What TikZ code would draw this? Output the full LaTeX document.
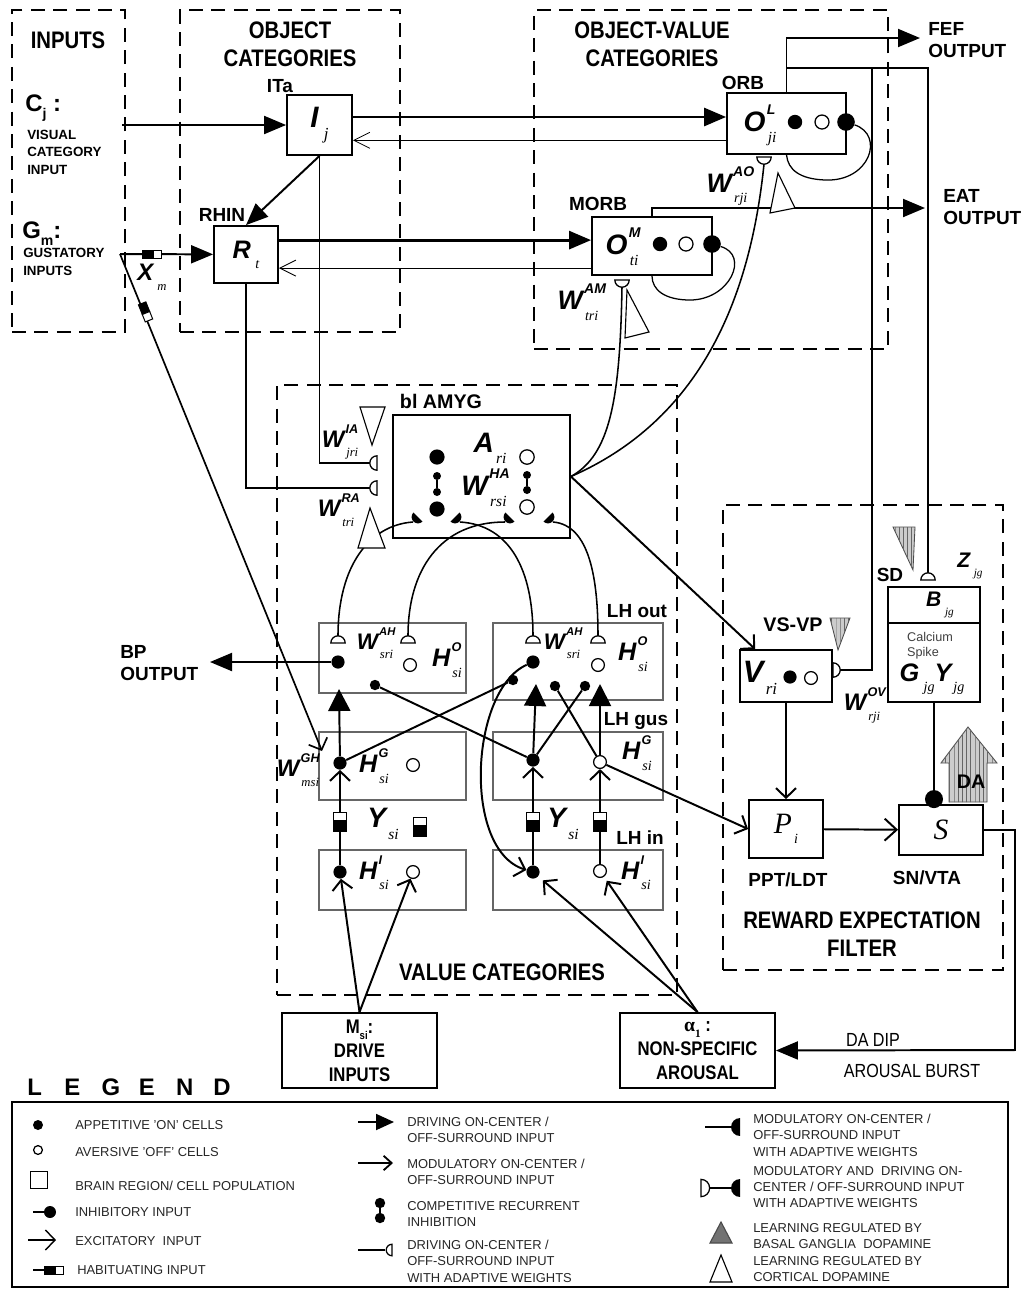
\documentclass[tikz,border=0pt]{standalone}
\usepackage{fontspec}
\setmainfont{Liberation Sans}
\newfontfamily\narrow[FakeStretch=0.85]{Liberation Sans}
\newfontfamily\tnr{Liberation Serif}
\usepackage{relsize}
\usetikzlibrary{arrows.meta,fit,patterns}
\newcommand{\mvar}[3]{{\bfseries\itshape #1}\raisebox{0.6em}{\makebox[0pt][l]{\kern0.05em\relscale{0.5}\bfseries\itshape #2}}\kern0.08em\raisebox{-0.4em}{\relscale{0.55}\tnr\itshape #3}}
\newcommand{\lo}[1]{\raisebox{-0.3em}{\relscale{0.6}#1}}

\begin{document}
\begin{tikzpicture}[x=0.25mm,y=-0.25mm,>=Latex]
\tikzstyle{region}=[draw,line width=2pt,dash pattern=on 3.5mm off 2.1mm,inner sep=0pt]
\tikzstyle{box}=[draw,line width=1.3pt,inner sep=0pt]
\tikzstyle{pool}=[draw=black!60,line width=0.8pt,inner sep=0pt]
\tikzstyle{oncell}=[circle,fill=black,inner sep=0pt,minimum size=3.3mm]
\tikzstyle{offcell}=[circle,draw,fill=white,line width=0.9pt,inner sep=0pt,minimum size=3.2mm]
\tikzstyle{inhdot}=[circle,fill=black,inner sep=0pt,minimum size=2.6mm]
\tikzstyle{wire}=[line width=0.9pt]
\tikzstyle{link}=[line width=1.4pt]
\tikzstyle{drive}=[line width=2pt,-{Triangle[length=5.5mm,width=4.5mm]}]
\tikzstyle{push}=[line width=1.4pt,-{Triangle[length=5.5mm,width=5.5mm]}]
\tikzstyle{excite}=[line width=1.4pt,-{Straight Barb[length=2.4mm,width=5mm]}]
\tikzstyle{feedback}=[line width=0.6pt,-{Straight Barb[length=4mm,width=4mm]}]
\tikzstyle{hatch}=[draw=black!70,line width=0.6pt,fill=black!20,postaction={pattern=vertical lines,pattern color=black!60}]
\tikzstyle{opentri}=[draw,line width=0.8pt,fill=white]
\tikzstyle{heading}=[font=\narrow\bfseries\fontsize{17}{20}\selectfont,align=center,inner sep=0pt]
\tikzstyle{lbl}=[font=\bfseries\fontsize{13.5}{16}\selectfont,inner sep=0pt]
\tikzstyle{inlabel}=[font=\bfseries\fontsize{9.5}{12.5}\selectfont,align=left,anchor=west,inner sep=0pt]
\tikzstyle{sym}=[font=\fontsize{20}{22}\selectfont,inner sep=0pt]
\tikzstyle{wsym}=[font=\fontsize{17}{19}\selectfont,inner sep=0pt]
\tikzstyle{legtext}=[font=\fontsize{9.2}{11.7}\selectfont,align=left,anchor=west,inner sep=0pt,text=black!85]
\tikzset{
  wcup/.pic={\draw[line width=0.9pt,fill=white] (-1.8mm,0mm) arc[start angle=180,end angle=360,radius=1.8mm] -- cycle;},
  wmod/.pic={\fill (-1.6mm,0mm) arc[start angle=180,end angle=360,radius=1.6mm] -- cycle;},
  habv/.pic={\filldraw[line width=0.7pt] (-1.6mm,-2.8mm) rectangle (1.6mm,0mm); \draw[line width=0.7pt,fill=white] (-1.6mm,0mm) rectangle (1.6mm,2mm);},
  habh/.pic={\filldraw[line width=0.7pt] (-2.6mm,-1mm) rectangle (0mm,1mm); \draw[line width=0.7pt,fill=white] (0mm,-1mm) rectangle (2mm,1mm);}
}
\useasboundingbox (0,0) rectangle (1029,1289);
\fill[white] (0,0) rectangle (1029,1289);

% dashed regions
\node[region,fit={(12,10) (125,332)}] (inputs) {};
\node[region,fit={(180,10) (400,332)}] (objcat) {};
\node[region,fit={(534,10) (888,349)}] (ovcat) {};
\node[region,fit={(277,385) (677,995)}] (valcat) {};
\node[region,fit={(723,505) (1003,970)}] (filter) {};
\node[heading] (hIn) at (68,40) {INPUTS};
\node[heading] (hObj) at (290,44) {OBJECT\\CATEGORIES};
\node[heading] (hOV) at (652,44) {OBJECT-VALUE\\CATEGORIES};
\node[heading] (hVal) at (502,972) {VALUE CATEGORIES};
\node[heading] (hRef) at (862,934) {REWARD EXPECTATION\\FILTER};

% inputs
\node[lbl,anchor=west,font=\bfseries\fontsize{17}{20}\selectfont] (tCj) at (25,108) {C\lo{j} :};
\node[inlabel] (tVis) at (27,152) {VISUAL\\CATEGORY\\INPUT};
\node[lbl,anchor=west,font=\bfseries\fontsize{17}{20}\selectfont] (tGm) at (22,234) {G\lo{m}:};
\node[inlabel] (tGus) at (23,262) {GUSTATORY\\INPUTS};
\coordinate (cjin) at (122,125);
\coordinate (gmin) at (120,254);
\coordinate (ghend) at (322,751);

% boxes
\node[box,fit={(287,95) (352,155)}] (Ij) {};
\node[box,fit={(214,226) (278,283)}] (Rt) {};
\node[box,fit={(727,93) (846,154)}] (OL) {};
\node[box,fit={(592,217) (712,275)}] (OM) {};
\node[box,fit={(393,415) (570,538)}] (Am) {};
\node[box,fit={(740,650) (832,702)}] (V) {};
\node[box,fit={(888,587) (980,702)}] (BG) {};
\node[box,fit={(749,800) (823,858)}] (P) {};
\node[box,fit={(899,805) (983,855)}] (S) {};
\node[box,fit={(282,1013) (437,1088)}] (Dr) {};
\node[box,fit={(620,1013) (775,1088)}] (Ar) {};
\node[pool,fit={(319,623) (466,693)}] (HOl) {};
\node[pool,fit={(493,623) (663,700)}] (HOr) {};
\node[pool,fit={(319,732) (466,800)}] (HGl) {};
\node[pool,fit={(493,732) (663,800)}] (HGr) {};
\node[pool,fit={(319,850) (466,910)}] (HIl) {};
\node[pool,fit={(493,850) (663,910)}] (HIr) {};

% cells
\node[oncell,minimum size=3.6mm] (ol1) at (795,122) {};
\node[offcell,minimum size=3.5mm] (ol2) at (822,122) {};
\node[oncell,minimum size=4.4mm] (ol3) at (846,122) {};
\node[oncell,minimum size=3.6mm] (om1) at (660,244) {};
\node[offcell,minimum size=3.5mm] (om2) at (686,244) {};
\node[oncell,minimum size=4.4mm] (om3) at (712,244) {};
\node[oncell,minimum size=3.8mm] (a1) at (437,457) {};
\node[inhdot,minimum size=2mm] (ad1) at (437,476) {};
\node[inhdot,minimum size=2mm] (ad2) at (437,492) {};
\node[oncell,minimum size=3.8mm] (a2) at (437,509) {};
\node[offcell,minimum size=3.6mm] (a3) at (527,457) {};
\node[inhdot,minimum size=2mm] (ad3) at (527,475) {};
\node[inhdot,minimum size=2mm] (ad4) at (527,490) {};
\node[offcell,minimum size=3.6mm] (a4) at (527,507) {};
\node[oncell] (hol1) at (338,662) {};
\node[offcell] (hol2) at (410,665) {};
\node[oncell] (hor1) at (533,662) {};
\node[offcell] (hor2) at (598,665) {};
\node[oncell] (hgl1) at (340,763) {};
\node[offcell] (hgl2) at (413,765) {};
\node[oncell] (hgr1) at (533,760) {};
\node[offcell] (hgr2) at (600,762) {};
\node[oncell] (hil1) at (340,872) {};
\node[offcell] (hil2) at (413,872) {};
\node[oncell] (hir1) at (533,872) {};
\node[offcell] (hir2) at (600,871) {};
\node[inhdot] (il1) at (375,685) {};
\node[inhdot] (ir1) at (513,680) {};
\node[inhdot] (ir2) at (555,686) {};
\node[inhdot] (ir3) at (585,686) {};
\node[oncell] (v1) at (790,677) {};
\node[offcell] (v2) at (811,678) {};

% free ends
\coordinate (fef) at (920,38);
\coordinate (eat) at (925,208);
\coordinate (split) at (787,68);
\coordinate (split2) at (872,68);
\coordinate (aoTip) at (764,164.2);
\coordinate (amTip) at (622,287.2);
\coordinate (iaTip) at (369.8,463);
\coordinate (raTip) at (369.8,488);
\coordinate (sdTip) at (928,572.8);
\coordinate (vTip) at (840.2,670);
\coordinate (ho1) at (338,635.8);
\coordinate (ho2) at (408,635.8);
\coordinate (ho3) at (533,635.8);
\coordinate (ho4) at (598,635.8);
\coordinate (m1) at (413,522);
\coordinate (m2) at (460,522);
\coordinate (m3) at (505,522);
\coordinate (m4) at (553,522);
\coordinate (bp) at (210,662);
\coordinate (upl) at (339,689);
\coordinate (upr1) at (536,684);
\coordinate (upr2) at (600,684);
\coordinate (turn) at (1015,1050);

% object pathway
\draw[drive,line width=1.4pt] (cjin) -- (Ij);
\draw[drive,line width=1.4pt] (gmin) -- (Rt);
\draw[excite,line width=1.2pt] (gmin) -- (ghend);
\draw[drive,line width=1.4pt] (Ij.south) -- (Rt.north);
\draw[drive] ([yshift=2mm]Ij.east) -- ([yshift=2mm]Ij.east -| OL.west);
\draw[feedback] ([yshift=-4.2mm]OL.west) -- ([yshift=-4.2mm]OL.west -| Ij.east);
\draw[drive] ([yshift=3.6mm]Rt.east) -- ([yshift=3.6mm]Rt.east -| OM.west);
\draw[feedback] ([yshift=-3.4mm]Rt.east -| OM.west) -- ([yshift=-3.4mm]Rt.east);
\draw[wire] (ol3) .. controls (885,135) and (870,182) .. (825,180) .. controls (800,179) and (788,170) .. (OL.south);
\draw[wire] (om3) .. controls (750,255) and (730,300) .. (690,300) .. controls (665,300) and (652,290) .. (OM.south);
\draw[drive,line width=1.4pt] (OL.north) |- (fef);
\draw[drive,line width=1.4pt] (OM.north) |- (eat);
\draw[wire] (split) -| (sdTip);
\draw[wire] (split2) |- (vTip);
\draw[wire] (Ij.south) |- (iaTip);
\draw[wire] (Rt.south) |- (raTip);

% amygdala
\draw[line width=1pt] (ad1) -- (ad2);
\draw[line width=1pt] (ad3) -- (ad4);
\draw[wire,line width=1.1pt] (Am.east) .. controls (610,455) and (620,400) .. (amTip);
\draw[wire,line width=1.1pt] (Am.east) .. controls (700,420) and (750,300) .. (aoTip);
\draw[excite] (Am.east) -- ([xshift=4mm]V.north west);
\draw[wire,line width=1.1pt] (m1) .. controls (370,525) and (338,565) .. (ho1);
\draw[wire,line width=1.1pt] (m2) .. controls (510,525) and (533,570) .. (ho3);
\draw[wire,line width=1.1pt] (m3) .. controls (440,522) and (408,570) .. (ho2);
\draw[wire,line width=1.1pt] (m4) .. controls (590,525) and (598,580) .. (ho4);

% value categories
\draw[drive,line width=1.4pt] (hol1) -- (bp);
\draw[link] (hgl1) -- (ir1);
\draw[link] (hgr1) -- (il1);
\draw[link] (hgr1) -- (ir3);
\draw[link] (hgr2) -- (ir2);
\draw[push] (hgl1) -- (upl);
\draw[push] (hgr1) -- (upr1);
\draw[push] (hgr2) -- (upr2);
\draw[excite] (hil1) -- (hgl1);
\draw[excite] (hir1) -- (hgr1);
\draw[excite] (hir2) -- (hgr2);
\draw[excite] (hor1) .. controls (470,690) and (462,850) .. (hir1);
\draw[excite] (hgr2) -- (P.west);
\draw[excite] (Dr.north) -- (hil1);
\draw[excite] (Dr.north) -- (hil2);
\draw[excite,shorten >=1.5mm] (Ar.north) -- (hir1);
\draw[excite,shorten >=1.2mm] (Ar.north) -- (hir2);

% reward expectation filter
\draw[excite] (V.south) -- (P.north);
\draw[excite,-{Straight Barb[length=3mm,width=5.5mm]}] (P) -- (S);
\draw[wire,line width=1pt,-{Circle[length=4.5mm]}] (BG.south) -- ([yshift=-1mm]BG.south |- S.north);
\draw[line width=0.8pt] (BG.west |- 0,623) -- (BG.east |- 0,623);
\draw[drive,line width=1.4pt] (S.east) -| (turn) -- (Ar.east);
\draw[hatch] (949,802) -- (987,802) -- (987,763) -- (997,763) -- (968,727) -- (941,763) -- (949,763) -- cycle;

% weights, markers and habituation gates
\pic at (764,157) {wcup};
\pic at (622,280) {wcup};
\pic[rotate=-90] at (377,463) {wcup};
\pic[rotate=-90] at (377,488) {wcup};
\pic[rotate=180] at (338,643) {wcup};
\pic[rotate=180] at (408,643) {wcup};
\pic[rotate=180] at (533,643) {wcup};
\pic[rotate=180] at (598,643) {wcup};
\pic[rotate=180] at (928,580) {wcup};
\pic[rotate=90] at (833,670) {wcup};
\pic[rotate=-45] at (418,517) {wmod};
\pic[rotate=45] at (455,517) {wmod};
\pic[rotate=-45] at (510,517) {wmod};
\pic[rotate=45] at (548,517) {wmod};
\pic at (153,254) {habh};
\pic[rotate=-68.2] at (146,313) {habh};
\pic at (340,820) {habv};
\pic at (533,820) {habv};
\pic at (600,820) {habv};
\pic at (420,825) {habv};
\draw[opentri] (770,213) -- (778,173) -- (795,208) -- cycle;
\draw[opentri] (627,290) -- (625,338) -- (649,332) -- cycle;
\draw[opentri] (360,407) -- (385,407) -- (372,445) -- cycle;
\draw[opentri] (370,508) -- (358,548) -- (385,548) -- cycle;
\draw[hatch] (830,618) -- (850,618) -- (838,650) -- cycle;
\draw[hatch] (893,527) -- (915,527) -- (913,570) -- cycle;

% labels
\node[sym,font=\fontsize{21}{23}\selectfont] (tIj) at (Ij) {\mvar{I}{}{\,j}};
\node[lbl] (tITa) at (280,86) {ITa};
\node[sym,font=\fontsize{18}{20}\selectfont] (tRt) at (Rt) {\mvar{R}{}{\,t}};
\node[lbl] (tRHIN) at (222,215) {RHIN};
\node[wsym] (tXm) at (152,277) {\mvar{X}{}{\,m}};
\node[sym] (tOL) at (760,125) {\mvar{O}{L}{ji}};
\node[lbl] (tORB) at (743,83) {ORB};
\node[sym] (tOM) at (622,247) {\mvar{O}{M}{ti}};
\node[lbl] (tMORB) at (598,204) {MORB};
\node[lbl,anchor=west,align=left] (tFEF) at (928,40) {FEF\\OUTPUT};
\node[lbl,anchor=west,align=left] (tEAT) at (943,207) {EAT\\OUTPUT};
\node[sym,font=\fontsize{19}{21}\selectfont] (tWAO) at (727,186) {\mvar{W}{AO}{rji}};
\node[sym,font=\fontsize{19}{21}\selectfont] (tWAM) at (578,302) {\mvar{W}{AM}{tri}};
\node[lbl,font=\bfseries\fontsize{14}{16}\selectfont] (tAm) at (441,401) {bl AMYG};
\node[sym] (tA) at (490,448) {\mvar{A}{}{ri}};
\node[sym] (tWHA) at (484,488) {\mvar{W}{HA}{rsi}};
\node[wsym] (tWIA) at (340,442) {\mvar{W}{IA}{jri}};
\node[wsym] (tWRA) at (336,510) {\mvar{W}{RA}{tri}};
\node[lbl,anchor=west,align=left] (tBP) at (120,663) {BP\\OUTPUT};
\node[lbl] (tLHo) at (637,611) {LH out};
\node[lbl] (tLHg) at (636,721) {LH gus};
\node[lbl] (tLHi) at (640,838) {LH in};
\node[wsym,font=\fontsize{16}{18}\selectfont] (tWAHl) at (375,643) {\mvar{W}{AH}{sri}};
\node[wsym,font=\fontsize{16}{18}\selectfont] (tWAHr) at (562,643) {\mvar{W}{AH}{sri}};
\node[wsym,font=\fontsize{18}{20}\selectfont] (tHOl) at (447,660) {\mvar{H}{O}{si}};
\node[wsym,font=\fontsize{18}{20}\selectfont] (tHOr) at (633,654) {\mvar{H}{O}{si}};
\node[wsym,font=\fontsize{18}{20}\selectfont] (tHGl) at (374,766) {\mvar{H}{G}{si}};
\node[wsym,font=\fontsize{18}{20}\selectfont] (tHGr) at (637,753) {\mvar{H}{G}{si}};
\node[wsym,font=\fontsize{18}{20}\selectfont] (tHIl) at (374,873) {\mvar{H}{I}{si}};
\node[wsym,font=\fontsize{18}{20}\selectfont] (tHIr) at (636,873) {\mvar{H}{I}{si}};
\node[wsym] (tWGH) at (298,770) {\mvar{W}{GH}{msi}};
\node[sym] (tYl) at (383,824) {\mvar{Y}{}{si}};
\node[sym] (tYr) at (563,824) {\mvar{Y}{}{si}};
\node[lbl,font=\bfseries\fontsize{14}{16}\selectfont] (tVSVP) at (793,625) {VS-VP};
\node[sym,font=\fontsize{22}{24}\selectfont] (tV) at (760,678) {\mvar{V}{}{ri}};
\node[wsym] (tWOV) at (862,705) {\mvar{W}{OV}{rji}};
\node[lbl] (tSD) at (890,575) {SD};
\node[wsym,font=\fontsize{15}{17}\selectfont] (tZ) at (970,566) {\mvar{Z}{}{\,jg}};
\node[wsym,font=\fontsize{15}{17}\selectfont] (tB) at (940,605) {\mvar{B}{}{\,jg}};
\node[font=\fontsize{9}{10.5}\selectfont,align=left,text=black!75,inner sep=0pt] (tCa) at (930,646) {Calcium\\Spike};
\node[wsym,font=\fontsize{18}{20}\selectfont] (tGY) at (932,679) {\mvar{G}{}{\,jg}\mvar{Y}{}{jg}};
\node[font=\tnr\itshape\fontsize{21}{24}\selectfont,inner sep=0pt] (tP) at (P) {P\raisebox{-0.35em}{\relscale{0.5}\,i}};
\node[font=\tnr\itshape\fontsize{21}{24}\selectfont,inner sep=0pt] (tS) at (S) {S};
\node[lbl] (tPPT) at (788,880) {PPT/LDT};
\node[lbl] (tSN) at (927,878) {SN/VTA};
\node[lbl,font=\bfseries\fontsize{14}{16}\selectfont] (tDA) at (971,782) {DA};
\node[heading,font=\narrow\bfseries\fontsize{14}{17}\selectfont] (tDr) at (Dr) {M\lo{si}:\\DRIVE\\INPUTS};
\node[heading,font=\narrow\bfseries\fontsize{14}{17}\selectfont] (tAr) at (Ar) {{\tnr\bfseries α\lo{1}} :\\NON-SPECIFIC\\AROUSAL};
\node[font=\narrow\fontsize{13.5}{16}\selectfont,inner sep=0pt] (tDip) at (873,1040) {DA DIP};
\node[font=\narrow\fontsize{13.5}{16}\selectfont,inner sep=0pt] (tBurst) at (912,1071) {AROUSAL BURST};

% legend
\node[anchor=west,inner sep=0pt,font=\bfseries\fontsize{17}{20}\selectfont] (tLegend) at (27,1087) {\makebox[9.3mm][l]{L}\makebox[9.3mm][l]{E}\makebox[9.3mm][l]{G}\makebox[9.3mm][l]{E}\makebox[9.3mm][l]{N}D};
\node[draw,line width=1.8pt,inner sep=0pt,fit={(12,1102) (1008,1287)}] (legend) {};
\node[oncell,minimum size=2.5mm] (lg1) at (38,1125) {};
\node[offcell,minimum size=2.2mm] (lg2) at (38,1150) {};
\node[draw,line width=0.6pt,minimum size=4.2mm,inner sep=0pt] (lg3) at (39,1180) {};
\node[oncell,minimum size=3mm] (lg4) at (50,1212) {};
\coordinate (lg4a) at (33,1212);
\coordinate (lg5a) at (28,1240);
\coordinate (lg5b) at (56,1240);
\coordinate (lg6a) at (33,1270);
\coordinate (lg6b) at (48,1270);
\draw[wire] (lg4a) -- (lg4);
\draw[excite,line width=1pt] (lg5a) -- (lg5b);
\draw[wire] (lg6a) -- (lg6b);
\pic at (55,1270) {habh};
\node[legtext] (lt1) at (75,1125) {APPETITIVE 'ON' CELLS};
\node[legtext] (lt2) at (75,1152) {AVERSIVE 'OFF' CELLS};
\node[legtext] (lt3) at (75,1186) {BRAIN REGION/ CELL POPULATION};
\node[legtext] (lt4) at (75,1212) {INHIBITORY INPUT};
\node[legtext] (lt5) at (75,1241) {EXCITATORY~~INPUT};
\node[legtext] (lt6) at (77,1270) {HABITUATING INPUT};
\coordinate (lg7a) at (358,1122);
\coordinate (lg7b) at (394,1122);
\coordinate (lg8a) at (358,1163);
\coordinate (lg8b) at (393,1163);
\coordinate (lg10a) at (358,1250);
\coordinate (lg10b) at (385,1250);
\draw[drive,line width=1.3pt,-{Triangle[length=4.5mm,width=4mm]}] (lg7a) -- (lg7b);
\draw[excite,line width=1.3pt,-{Straight Barb[length=2mm,width=3.6mm]}] (lg8a) -- (lg8b);
\node[oncell,minimum size=2.6mm] (lg9a) at (380,1203) {};
\node[oncell,minimum size=2.6mm] (lg9b) at (380,1218) {};
\draw[line width=1pt] (lg9a) -- (lg9b);
\draw[wire] (lg10a) -- (lg10b);
\pic[rotate=-90,scale=0.8] at (392,1250) {wcup};
\node[legtext] (lt7) at (407,1130) {DRIVING ON-CENTER /\\OFF-SURROUND INPUT};
\node[legtext] (lt8) at (407,1172) {MODULATORY ON-CENTER /\\OFF-SURROUND INPUT};
\node[legtext] (lt9) at (407,1214) {COMPETITIVE RECURRENT\\INHIBITION};
\node[legtext] (lt10) at (407,1261) {DRIVING ON-CENTER /\\OFF-SURROUND INPUT\\WITH ADAPTIVE WEIGHTS};
\coordinate (lg11a) at (705,1127);
\coordinate (lg11b) at (733,1127);
\coordinate (lg12a) at (709,1188);
\coordinate (lg12b) at (733,1188);
\draw[wire] (lg11a) -- (lg11b);
\pic[rotate=-90,scale=1.4] at (740,1127) {wmod};
\draw[wire] (lg12a) -- (lg12b);
\pic[rotate=90,scale=1.2] at (701,1188) {wcup};
\pic[rotate=-90,scale=1.4] at (740,1188) {wmod};
\draw[draw=black!70,line width=0.8pt,fill=black!55] (710,1243) -- (732,1243) -- (721,1222) -- cycle;
\draw[opentri] (710,1282) -- (732,1282) -- (721,1255) -- cycle;
\node[legtext] (lt11) at (753,1135) {MODULATORY ON-CENTER /\\OFF-SURROUND INPUT\\WITH ADAPTIVE WEIGHTS};
\node[legtext] (lt12) at (753,1187) {MODULATORY AND~~DRIVING ON-\\CENTER / OFF-SURROUND INPUT\\WITH ADAPTIVE WEIGHTS};
\node[legtext] (lt13) at (753,1236) {LEARNING REGULATED BY\\BASAL GANGLIA~~DOPAMINE};
\node[legtext] (lt14) at (753,1269) {LEARNING REGULATED BY\\CORTICAL DOPAMINE};
\end{tikzpicture}
\end{document}
